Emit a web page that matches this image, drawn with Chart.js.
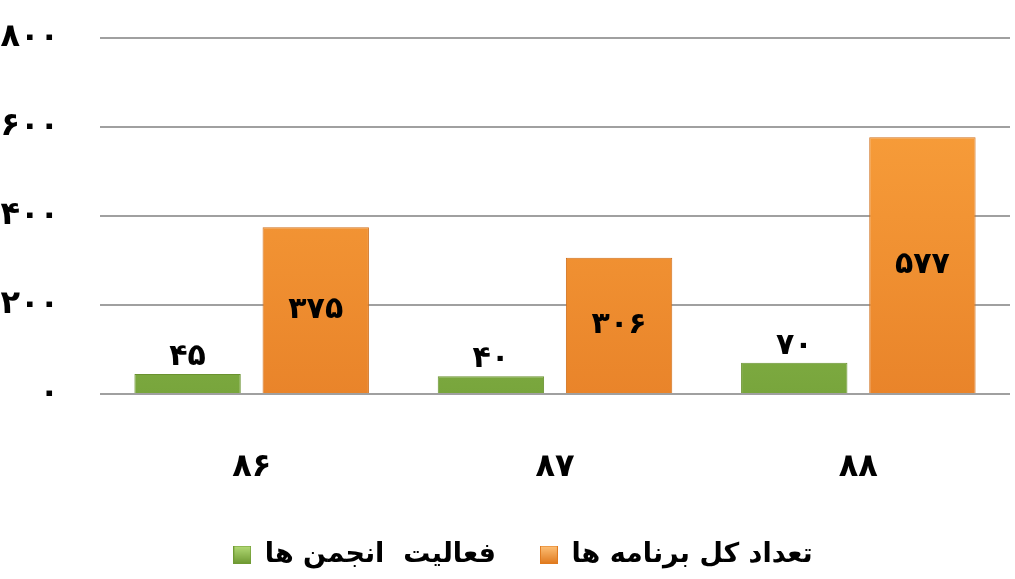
<!DOCTYPE html>
<html>
<head>
<meta charset="utf-8">
<script src="https://cdn.jsdelivr.net/npm/chart.js@4.4.0/dist/chart.umd.min.js"></script>
<style>
    html, body { margin: 0; padding: 0; background: #fff; }
    #wrap { width: 1015px; height: 579px; }
</style>
</head>
<body>
<div id="wrap"><canvas id="barChart"></canvas></div>
<script>
const years = ['86', '87', '88'];
const activityValues = [45, 40, 70];
const programValues = [375, 306, 577];
const seriesNames = ['فعالیت  انجمن ها', 'تعداد کل برنامه ها'];
const yTicks = [0, 200, 400, 600, 800];

// western digits -> persian digits
function fa(n) {
    return String(n).replace(/[0-9]/g, d => '۰۱۲۳۴۵۶۷۸۹'[d]);
}

const FONT = '"DejaVu Sans", sans-serif';

function vGrad(ctx, top, bottom) {
    const area = ctx.chart.chartArea;
    if (!area) return top;
    const g = ctx.chart.ctx.createLinearGradient(0, area.top, 0, area.bottom);
    g.addColorStop(0, top);
    g.addColorStop(1, bottom);
    return g;
}

function legendIcon(light, dark) {
    const c = document.createElement('canvas');
    c.width = 18; c.height = 18;
    const x = c.getContext('2d');
    const g = x.createLinearGradient(0, 0, 0, 18);
    g.addColorStop(0, light);
    g.addColorStop(1, dark);
    x.fillStyle = g;
    x.fillRect(0, 0, 18, 18);
    x.strokeStyle = dark;
    x.strokeRect(0.5, 0.5, 17, 17);
    return c;
}
const greenIcon = legendIcon('#b5dc78', '#6f9a33');
const orangeIcon = legendIcon('#ffc27a', '#e07a1f');

const valueLabels = {
    id: 'valueLabels',
    afterLayout(chart) {
        // legend in the original sits a bit right of centre
        chart.legend.left += 18;
        chart.legend.right += 18;
    },
    afterDatasetsDraw(chart) {
        const ctx = chart.ctx;
        ctx.save();
        ctx.font = 'bold 30px ' + FONT;
        ctx.fillStyle = '#000';
        ctx.textAlign = 'center';
        ctx.textBaseline = 'middle';
        chart.data.datasets.forEach((ds, i) => {
            chart.getDatasetMeta(i).data.forEach((bar, j) => {
                const v = ds.data[j];
                let y;
                if (i === 0) {
                    y = bar.y - 17;
                } else {
                    y = (bar.y + bar.base) / 2;
                }
                ctx.fillText(fa(v), bar.x, y);
            });
        });
        ctx.restore();
    }
};

const ctx = document.getElementById('barChart').getContext('2d');
new Chart(ctx, {
    type: 'bar',
    data: {
        labels: years,
        datasets: [
            {
                label: seriesNames[0],
                data: activityValues,
                backgroundColor: c => vGrad(c, '#a6d064', '#78a53c'),
                borderColor: '#6a9230',
                borderWidth: 1,
                pointStyle: greenIcon
            },
            {
                label: seriesNames[1],
                data: programValues,
                backgroundColor: c => vGrad(c, '#fba43e', '#e9842a'),
                borderColor: '#d0701c',
                borderWidth: 1,
                pointStyle: orangeIcon
            }
        ]
    },
    options: {
        responsive: true,
        maintainAspectRatio: false,
        animation: false,
        categoryPercentage: 0.845,
        barPercentage: 0.83,
        layout: { padding: { top: 38, right: 5, bottom: 1, left: 0 } },
        plugins: {
            legend: {
                position: 'bottom',
                labels: {
                    usePointStyle: true,
                    color: '#000',
                    font: { family: FONT, size: 27, weight: 'bold' },
                    padding: 44,
                    boxWidth: 18,
                    boxHeight: 18
                }
            },
            tooltip: { enabled: false }
        },
        scales: {
            x: {
                grid: { display: false, drawTicks: false },
                border: { display: false },
                ticks: {
                    color: '#000',
                    padding: 54,
                    font: { family: FONT, size: 32, weight: 'bold' },
                    callback: function (v) { return fa(this.getLabelForValue(v)); }
                },
                afterFit(scale) { scale.height = 103; }
            },
            y: {
                min: 0,
                max: 800,
                afterBuildTicks(scale) { scale.ticks = yTicks.map(v => ({ value: v })); },
                grid: { color: '#a0a0a0', lineWidth: 2, drawTicks: false },
                border: { display: false },
                ticks: {
                    color: '#000',
                    padding: 41,
                    font: { family: FONT, size: 32, weight: 'bold' },
                    callback: v => fa(v)
                },
                afterFit(scale) {
                    scale.width = 100;
                    scale.paddingTop = 0;
                    scale.paddingBottom = 0;
                }
            }
        }
    },
    plugins: [valueLabels]
});
</script>
</body>
</html>
